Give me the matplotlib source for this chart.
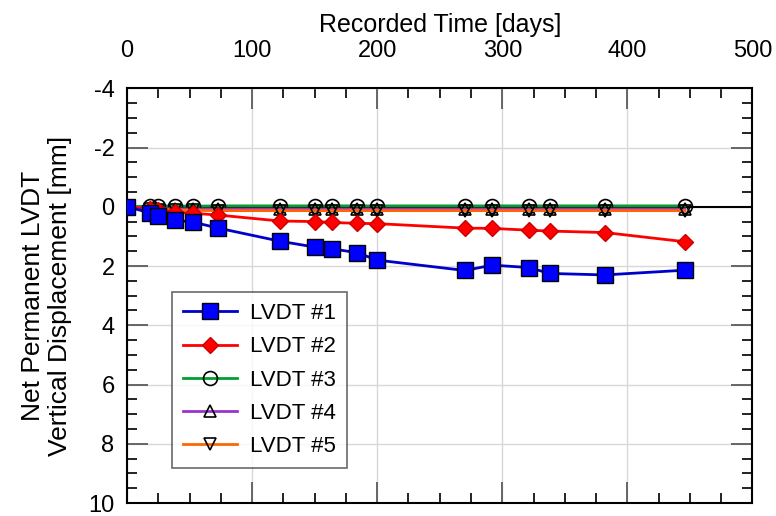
import matplotlib.pyplot as plt
from matplotlib.ticker import MultipleLocator
from matplotlib import font_manager

names = {f.name for f in font_manager.fontManager.ttflist}
narrow = 'Liberation Sans Narrow' if 'Liberation Sans Narrow' in names else 'Liberation Sans'

plt.rcParams['font.family'] = ['Liberation Sans', 'DejaVu Sans']
plt.rcParams['axes.unicode_minus'] = False

days = [0, 18, 25, 38, 53, 73, 122, 150, 164, 184, 200, 270, 292, 321, 338, 382, 446]
lvdt1 = [0, 0.2, 0.3, 0.45, 0.52, 0.72, 1.16, 1.36, 1.42, 1.55, 1.8, 2.15, 1.97, 2.05, 2.25, 2.3, 2.14]
lvdt2 = [0, 0.08, 0.1, 0.18, 0.22, 0.28, 0.48, 0.5, 0.53, 0.56, 0.57, 0.72, 0.73, 0.79, 0.82, 0.87, 1.18]
lvdt3 = [0, -0.02, -0.03, -0.03, -0.02, -0.03, -0.03, -0.03, -0.03, -0.03, -0.03, -0.03, -0.03, -0.03, -0.03, -0.03, -0.03]
lvdt4 = [0, 0.05, 0.06, 0.07, 0.08, 0.08, 0.08, 0.08, 0.08, 0.08, 0.08, 0.08, 0.08, 0.08, 0.08, 0.08, 0.08]
lvdt5 = [0, 0.08, 0.1, 0.11, 0.12, 0.13, 0.13, 0.13, 0.13, 0.13, 0.13, 0.13, 0.13, 0.13, 0.13, 0.13, 0.13]

fig = plt.figure(figsize=(7.76, 5.16), dpi=100)
ax = fig.add_axes([0.1637, 0.025, 0.806, 0.804])

ax.axhline(0, color='black', lw=1.5, zorder=1)
ax.plot(days, lvdt1, color='#0000cc', lw=2, marker='s', ms=11.5, mfc='#0000ff', mec='black', mew=1, label='LVDT #1', zorder=5)
ax.plot(days, lvdt2, color='#ff0000', lw=2, marker='D', ms=8.5, mfc='#ff0000', mec='#cc0000', mew=1, label='LVDT #2', zorder=4)
ax.plot(days, lvdt3, color='#00a030', lw=2, marker='o', ms=10, mfc='none', mec='black', mew=1.2, label='LVDT #3', zorder=3)
ax.plot(days, lvdt4, color='#9933cc', lw=2, marker='^', ms=9, mfc='none', mec='black', mew=1.2, label='LVDT #4', zorder=3)
ax.plot(days, lvdt5, color='#ff6600', lw=2, marker='v', ms=9, mfc='none', mec='black', mew=1.2, label='LVDT #5', zorder=3)

ax.set_xlim(0, 500)
ax.set_ylim(10, -4)
ax.xaxis.set_major_locator(MultipleLocator(100))
ax.xaxis.set_minor_locator(MultipleLocator(25))
ax.yaxis.set_major_locator(MultipleLocator(2))
ax.yaxis.set_minor_locator(MultipleLocator(0.5))
ax.grid(True, which='major', color='#d8d8d8', lw=1)
ax.set_axisbelow(True)

ax.xaxis.tick_top()
ax.xaxis.set_label_position('top')
ax.tick_params(which='both', direction='in', top=True, bottom=True, left=True, right=True,
               labeltop=True, labelbottom=False, width=1.4)
ax.tick_params(which='major', length=15, color='#666666')
ax.tick_params(which='minor', length=7, color='#222222')
ax.tick_params(axis='x', which='major', pad=19)
ax.tick_params(axis='y', which='major', pad=9)
for lab in ax.get_xticklabels() + ax.get_yticklabels():
    lab.set_fontfamily(narrow)
    lab.set_fontsize(17)
for s in ax.spines.values():
    s.set_linewidth(1.5)

ax.set_xlabel('Recorded Time [days]', fontsize=18, family=narrow, labelpad=6)
ax.set_ylabel('Net Permanent LVDT\nVertical Displacement [mm]', fontsize=19, labelpad=12,
              linespacing=1.15)

leg = ax.legend(loc='lower left', bbox_to_anchor=(0.072, 0.084), borderaxespad=0, fontsize=16,
                frameon=True, fancybox=False, edgecolor='#444444', handlelength=2.4,
                borderpad=0.5, labelspacing=0.55, handletextpad=0.6)
leg.get_frame().set_linewidth(1.2)

fig.savefig('out.png', dpi=100)
